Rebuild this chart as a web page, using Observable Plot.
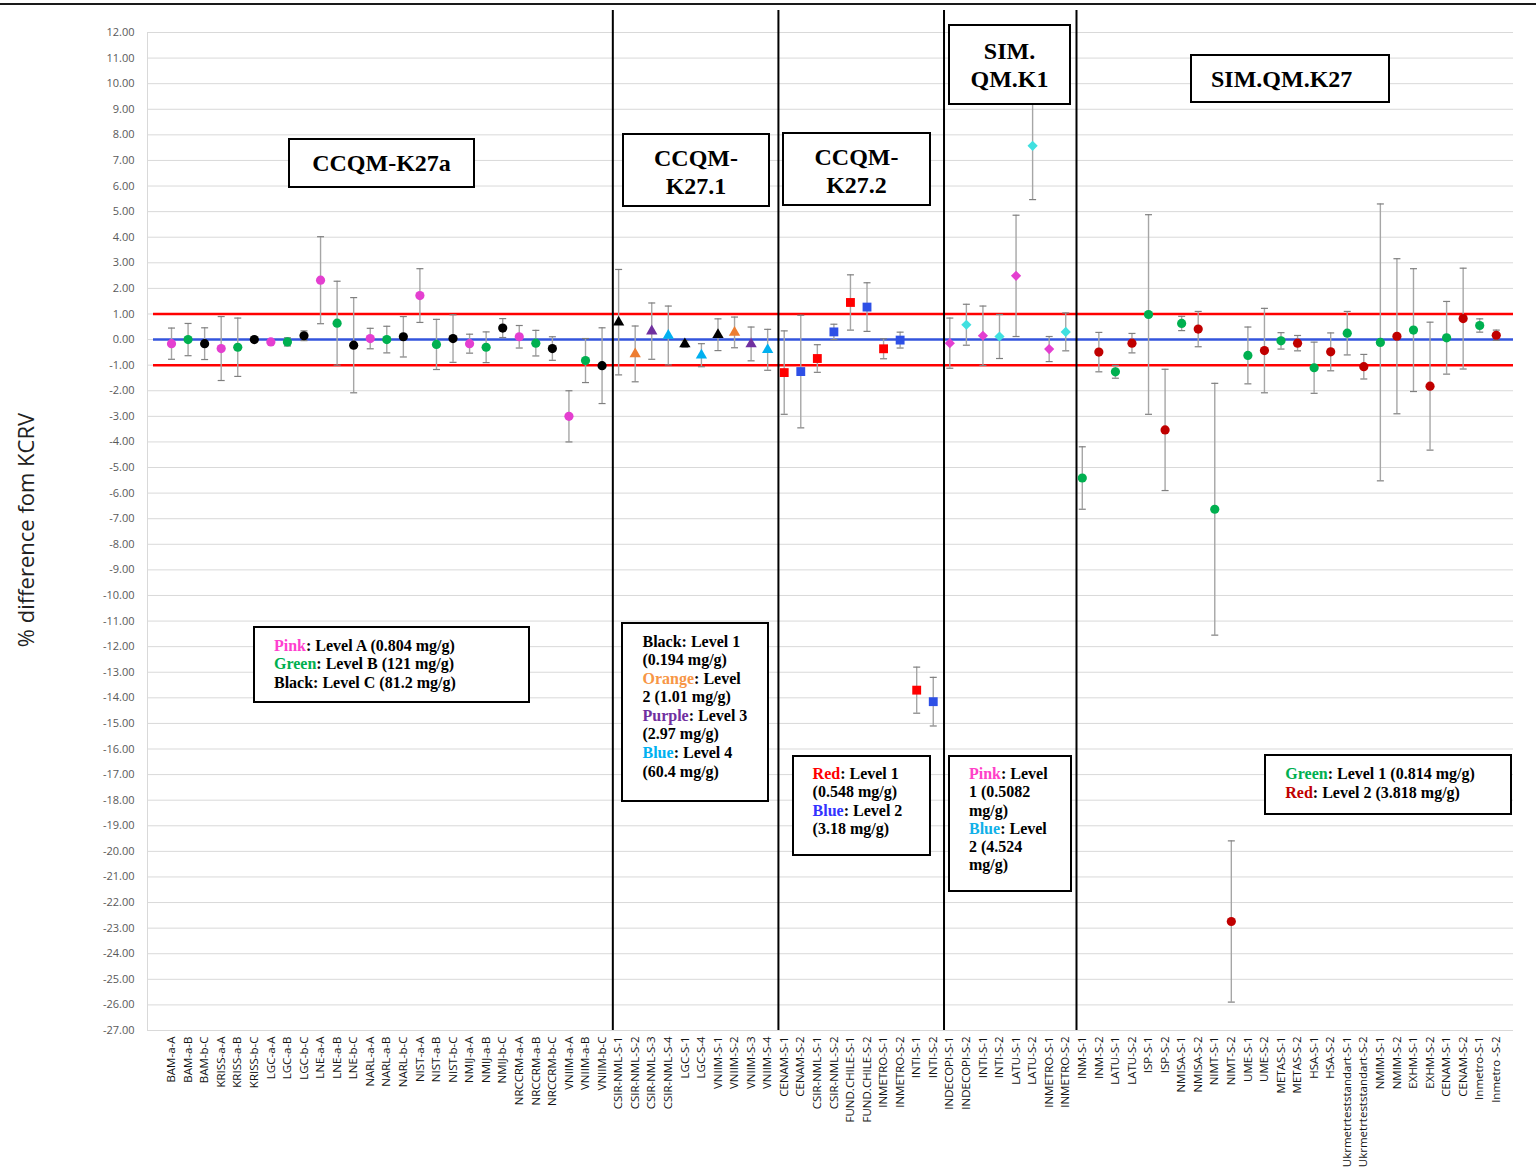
<!DOCTYPE html>
<html>
<head>
<meta charset="utf-8">
<script src="https://cdn.jsdelivr.net/npm/d3@7"></script>
<script src="https://cdn.jsdelivr.net/npm/@observablehq/plot@0.6"></script>
<style>
  html, body { margin: 0; padding: 0; background: #fff; }
  #wrap { position: relative; width: 1536px; height: 1170px; overflow: hidden; }
  #topline { position: absolute; left: 0; top: 3px; width: 1536px; height: 2px; background: #1a1a1a; }
  .box { position: absolute; box-sizing: border-box; border: 2px solid #000; background: #fff;
         font-family: "Liberation Serif", "Times New Roman", serif; font-weight: bold; color: #000; }
  .title { display: flex; align-items: center; justify-content: center; text-align: center;
           font-size: 24px; line-height: 28px; }
  .legend { font-size: 16px; white-space: nowrap; }
  #ylabel { position: absolute; left: 25px; top: 530px; transform: translate(-50%, -50%) rotate(-90deg);
            font-family: "Open Sans", sans-serif; font-size: 22px; color: #222; white-space: nowrap; }
</style>
</head>
<body>
<div id="wrap">
  <div id="chart"></div>
  <div id="topline"></div>
  <div id="ylabel">% difference fom KCRV</div>

  <div class="box title" style="left:288px;top:138px;width:187px;height:50px;">CCQM-K27a</div>
  <div class="box title" style="left:622px;top:133px;width:148px;height:74px;padding-top:4px;">CCQM-<br>K27.1</div>
  <div class="box title" style="left:782px;top:132px;width:149px;height:74px;padding-top:4px;">CCQM-<br>K27.2</div>
  <div class="box title" style="left:948px;top:24px;width:123px;height:81px;">SIM.<br>QM.K1</div>
  <div class="box title" style="left:1190px;top:54px;width:200px;height:49px;justify-content:flex-start;padding-left:19px;">SIM.QM.K27</div>

  <div class="box legend" style="left:253px;top:626px;width:277px;height:77px;padding:9px 0 0 19px;line-height:18.4px;">
    <span style="color:#ff3fcf">Pink</span>: Level A (0.804 mg/g)<br>
    <span style="color:#00b050">Green</span>: Level B (121 mg/g)<br>
    Black: Level C (81.2 mg/g)
  </div>
  <div class="box legend" style="left:621px;top:622px;width:148px;height:180px;padding:8.5px 0 0 19.5px;line-height:18.6px;">
    Black: Level 1<br>(0.194 mg/g)<br>
    <span style="color:#f79646">Orange</span>: Level<br>2 (1.01 mg/g)<br>
    <span style="color:#7030a0">Purple</span>: Level 3<br>(2.97 mg/g)<br>
    <span style="color:#00b0f0">Blue</span>: Level 4<br>(60.4 mg/g)
  </div>
  <div class="box legend" style="left:792px;top:755px;width:139px;height:101px;padding:8px 0 0 18.6px;line-height:18.3px;">
    <span style="color:#ff0000">Red</span>: Level 1<br>(0.548 mg/g)<br>
    <span style="color:#3333ff">Blue</span>: Level 2<br>(3.18 mg/g)
  </div>
  <div class="box legend" style="left:948px;top:755px;width:124px;height:137px;padding:8px 0 0 19px;line-height:18.3px;">
    <span style="color:#ff40c8">Pink</span>: Level<br>1 (0.5082<br>mg/g)<br>
    <span style="color:#10b0e8">Blue</span>: Level<br>2 (4.524<br>mg/g)
  </div>
  <div class="box legend" style="left:1264px;top:754px;width:248px;height:61px;padding:8px 0 0 19.3px;line-height:19.3px;">
    <span style="color:#00b050">Green</span>: Level 1 (0.814 mg/g)<br>
    <span style="color:#c00000">Red</span>: Level 2 (3.818 mg/g)
  </div>
</div>
<script>
// ---- Data ----
// CCQM-K27a
const k27aLabels = ["BAM-a-A","BAM-a-B","BAM-b-C","KRISS-a-A","KRISS-a-B","KRISS-b-C","LGC-a-A","LGC-a-B","LGC-b-C","LNE-a-A","LNE-a-B","LNE-b-C","NARL-a-A","NARL-a-B","NARL-b-C","NIST-a-A","NIST-a-B","NIST-b-C","NMIJ-a-A","NMIJ-a-B","NMIJ-b-C","NRCCRM-a-A","NRCCRM-a-B","NRCCRM-b-C","VNIIM-a-A","VNIIM-a-B","VNIIM-b-C"];
const k27aLevels = ["A","B","C","A","B","C","A","B","C","A","B","C","A","B","C","A","B","C","A","B","C","A","B","C","A","B","C"];
const k27aValues = [-0.16,0.00,-0.16,-0.35,-0.30,0.00,-0.09,-0.09,0.15,2.32,0.64,-0.22,0.04,0.00,0.11,1.72,-0.19,0.04,-0.16,-0.30,0.45,0.11,-0.14,-0.35,-3.00,-0.82,-1.02];
const k27aErrors = [0.61,0.63,0.62,1.25,1.14,0.06,0.06,0.16,0.19,1.70,1.64,1.86,0.40,0.52,0.79,1.05,0.98,0.93,0.37,0.60,0.37,0.44,0.50,0.46,1.00,0.86,1.48];

// CCQM-K27.1
const k271Labels = ["CSIR-NML-S-1","CSIR-NML-S-2","CSIR-NML-S-3","CSIR-NML-S-4","LGC-S-1","LGC-S-4","VNIIM-S-1","VNIIM-S-2","VNIIM-S-3","VNIIM-S-4"];
const k271Levels = ["1","2","3","4","1","4","1","2","3","4"];
const k271Values = [0.68,-0.56,0.33,0.16,-0.17,-0.61,0.19,0.28,-0.17,-0.40];
const k271Errors = [2.06,1.09,1.10,1.15,0.13,0.45,0.62,0.60,0.66,0.80];

// CCQM-K27.2
const k272Labels = ["CENAM-S-1","CENAM-S-2","CSIR-NML-S-1","CSIR-NML-S-2","FUND.CHILE-S-1","FUND.CHILE-S-2","INMETRO-S-1","INMETRO-S-2","INTI-S-1","INTI-S-2"];
const k272Levels = ["1","2","1","2","1","2","1","2","1","2"];
const k272Values = [-1.29,-1.25,-0.74,0.30,1.45,1.27,-0.36,-0.02,-13.70,-14.15];
const k272Errors = [1.63,2.20,0.54,0.30,1.08,0.95,0.39,0.31,0.90,0.95];

// SIM.QM.K1
const simK1Labels = ["INDECOPI-S-1","INDECOPI-S-2","INTI-S-1","INTI-S-2","LATU-S-1","LATU-S-2","INMETRO-S-1","INMETRO-S-2"];
const simK1Levels = ["1","2","1","2","1","2","1","2"];
const simK1Values = [-0.14,0.58,0.15,0.12,2.49,7.57,-0.37,0.30];
const simK1Errors = [0.98,0.80,1.16,0.86,2.37,2.10,0.49,0.74];

// SIM.QM.K27
const simK27Labels = ["INM-S-1","INM-S-2","LATU-S-1","LATU-S-2","ISP-S-1","ISP-S-2","NMISA-S-1","NMISA-S-2","NIMT-S-1","NIMT-S-2","UME-S-1","UME-S-2","METAS-S-1","METAS-S-2","HSA-S-1","HSA-S-2","Ukrmetrteststandart-S-1","Ukrmetrteststandart-S-2","NMIM-S-1","NMIM-S-2","EXHM-S-1","EXHM-S-2","CENAM-S-1","CENAM-S-2","Inmetro-S-1","Inmetro -S-2"];
const simK27Levels = ["1","2","1","2","1","2","1","2","1","2","1","2","1","2","1","2","1","2","1","2","1","2","1","2","1","2"];
const simK27Values = [-5.41,-0.49,-1.26,-0.14,0.98,-3.53,0.63,0.41,-6.63,-22.74,-0.62,-0.43,-0.05,-0.14,-1.10,-0.48,0.25,-1.06,-0.11,0.13,0.37,-1.82,0.07,0.82,0.55,0.17];
const simK27Errors = [1.22,0.77,0.25,0.38,3.90,2.37,0.28,0.69,4.92,3.15,1.11,1.65,0.32,0.30,1.00,0.74,0.85,0.48,5.41,3.03,2.40,2.50,1.42,1.97,0.26,0.20];

// Reference lines and y ticks
const refValues = [1, 0, -1];
const yTickValues = d3.range(-27, 13, 1);

// ---- Styles ----
const groups = [
  {labels: k27aLabels, levels: k27aLevels, values: k27aValues, errors: k27aErrors, symbol: "circle", r: 4.6,
   colors: {A: "#e43fd0", B: "#00b050", C: "#000000"}},
  {labels: k271Labels, levels: k271Levels, values: k271Values, errors: k271Errors, symbol: "triangle", r: 4.2,
   colors: {"1": "#000000", "2": "#ed7d31", "3": "#7030a0", "4": "#00b0f0"}},
  {labels: k272Labels, levels: k272Levels, values: k272Values, errors: k272Errors, symbol: "square", r: 5,
   colors: {"1": "#ff0000", "2": "#2e50e6"}},
  {labels: simK1Labels, levels: simK1Levels, values: simK1Values, errors: simK1Errors, symbol: "diamond2", r: 4.6,
   colors: {"1": "#e43fd0", "2": "#40e0e0"}},
  {labels: simK27Labels, levels: simK27Levels, values: simK27Values, errors: simK27Errors, symbol: "circle", r: 4.6,
   colors: {"1": "#00b050", "2": "#c00000"}}
];

let idx = 0;
const allLabels = [];
const separators = [];
groups.forEach((g, gi) => {
  g.rows = g.labels.map((lab, k) => {
    allLabels.push(lab);
    return {i: idx++, label: lab, v: g.values[k], e: g.errors[k], color: g.colors[g.levels[k]]};
  });
  if (gi < groups.length - 1) separators.push(idx - 0.35);
});
const allRows = groups.flatMap(g => g.rows);
const indices = allRows.map(d => d.i);

const xDomain = [-1.45, 81.04];
const refLines = refValues.map(v => ({value: v, color: v === 0 ? "#3355dd" : "#ff0000"}));

const capSymbol = {draw(ctx) { ctx.moveTo(-3.5, 0); ctx.lineTo(3.5, 0); }};

const chart = Plot.plot({
  width: 1536,
  height: 1170,
  marginLeft: 147,
  marginRight: 23,
  marginTop: 32,
  marginBottom: 140,
  style: {fontFamily: "'Open Sans', sans-serif", background: "transparent", overflow: "visible"},
  x: {type: "linear", domain: xDomain, axis: null},
  y: {domain: [-27, 12], axis: null},
  marks: [
    Plot.gridY(yTickValues, {stroke: "#d9d9d9", strokeOpacity: 1, strokeWidth: 1}),
    Plot.ruleX([xDomain[0]], {stroke: "#d9d9d9", strokeWidth: 1}),
    Plot.axisY(yTickValues, {tickSize: 0, tickPadding: 13, tickFormat: d => d.toFixed(2), fontSize: 11, color: "#595959", label: null}),
    Plot.axisX(indices, {tickSize: 0, tickPadding: 6, tickRotate: -90, tickFormat: i => allLabels[i], fontSize: 11.5, color: "#111", label: null}),
    Plot.ruleY(refLines, {y: "value", stroke: "color", strokeWidth: 2.5, insetLeft: 6}),
    Plot.ruleX(separators, {stroke: "#000", strokeWidth: 2, insetTop: -22}),
    Plot.ruleX(allRows, {x: "i", y1: d => d.v - d.e, y2: d => d.v + d.e, stroke: "#a6a6a6", strokeWidth: 1.4}),
    Plot.dot(allRows, {x: "i", y: d => d.v + d.e, symbol: capSymbol, r: 3, fill: "none", stroke: "#7f7f7f", strokeWidth: 1.2}),
    Plot.dot(allRows, {x: "i", y: d => d.v - d.e, symbol: capSymbol, r: 3, fill: "none", stroke: "#7f7f7f", strokeWidth: 1.2}),
    ...groups.map(g => Plot.dot(g.rows, {x: "i", y: "v", symbol: g.symbol, r: g.r, fill: "color", stroke: null}))
  ]
});
document.getElementById("chart").appendChild(chart);
</script>
</body>
</html>
